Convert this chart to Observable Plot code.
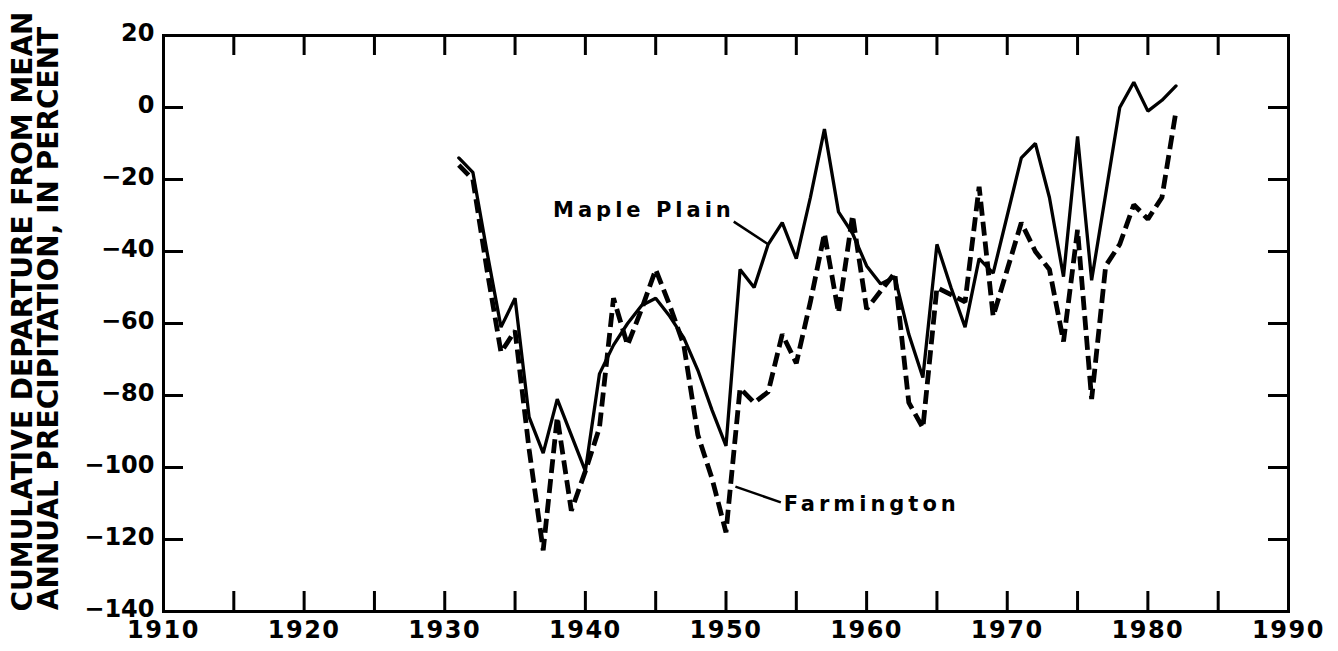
<!DOCTYPE html>
<html>
<head>
<meta charset="utf-8">
<script src="https://cdn.jsdelivr.net/npm/d3@7"></script>
<script src="https://cdn.jsdelivr.net/npm/@observablehq/plot@0.6"></script>
<style>
  html, body { margin: 0; padding: 0; background: white; }
  #chart { width: 1338px; height: 651px; }
</style>
</head>
<body>
<div id="chart"></div>
<script>
// ---- Data ----
const years = [1931,1932,1933,1934,1935,1936,1937,1938,1939,1940,
               1941,1942,1943,1944,1945,1946,1947,1948,1949,1950,
               1951,1952,1953,1954,1955,1956,1957,1958,1959,1960,
               1961,1962,1963,1964,1965,1966,1967,1968,1969,1970,
               1971,1972,1973,1974,1975,1976,1977,1978,1979,1980,
               1981,1982];
const maplePlain = [-14,-18,-40,-61,-53,-86,-96,-81,-91,-101,
                    -74,-66,-60,-55,-53,-58,-64,-73,-84,-94,
                    -45,-50,-38,-32,-42,-25,-6,-29,-35,-44,
                    -49,-47,-63,-75,-38,-50,-61,-42,-46,-30,
                    -14,-10,-25,-47,-8,-48,-24,0,7,-1,
                    2,6];
const farmington = [-16,-20,-45,-68,-62,-95,-123,-86,-112,-101,
                    -89,-53,-66,-56,-45,-55,-66,-91,-103,-118,
                    -78,-82,-79,-63,-71,-54,-35,-57,-30,-56,
                    -51,-46,-82,-89,-50,-52,-54,-22,-58,-45,
                    -32,-40,-45,-65,-34,-81,-44,-38,-27,-31,
                    -25,-1];
const xLabelTicks = [1910,1920,1930,1940,1950,1960,1970,1980,1990];
const xTicks = [1915,1920,1925,1930,1935,1940,1945,1950,1955,1960,1965,1970,1975,1980,1985];
const yTicks = [-140,-120,-100,-80,-60,-40,-20,0,20];
const yInnerTicks = [-120,-100,-80,-60,-40,-20,0];
const yTitleLines = ["CUMULATIVE DEPARTURE FROM MEAN", "ANNUAL PRECIPITATION, IN PERCENT"];
const seriesNames = ["Maple Plain", "Farmington"];
const labelYears = [1937.7, 1954.1];
const labelValues = [-28.6, -110.3];
const leaderFromYears = [1950.55, 1950.67];
const leaderFromValues = [-31.7, -105.3];
const leaderToYears = [1953.0, 1953.9];
const leaderToValues = [-38, -109.7];

// ---- Build tables ----
const mapleData = years.map((y, i) => ({year: y, value: maplePlain[i]}));
const farmData = years.map((y, i) => ({year: y, value: farmington[i]}));
const labels = seriesNames.map((n, i) => ({name: n, x: labelYears[i], y: labelValues[i]}));
const leaders = seriesNames.map((n, i) => ({x1: leaderFromYears[i], y1: leaderFromValues[i], x2: leaderToYears[i], y2: leaderToValues[i]}));

const W = 1338, H = 651;
const mL = 163, mR = 50, mT = 35, mB = 40;
const plotW = W - mL - mR, plotH = H - mT - mB;
const tickLen = 20;

const chart = Plot.plot({
  width: W, height: H,
  marginLeft: mL, marginRight: mR, marginTop: mT, marginBottom: mB,
  style: "font-family: 'DejaVu Sans', sans-serif; font-weight: bold; background: white; color: black;",
  x: {domain: [1910, 1990]},
  y: {domain: [-140, 20]},
  marks: [
    Plot.axisX(xLabelTicks, {tickSize: 0, tickPadding: 9, fontSize: 24, tickFormat: "d", label: null}),
    Plot.axisY(yTicks, {tickSize: 0, tickPadding: 9, dy: -2, fontSize: 24, label: null}),
    // inward ticks on all four sides
    Plot.ruleX(xTicks, {x: d => d, insetTop: plotH - tickLen, strokeWidth: 3}),
    Plot.ruleX(xTicks, {x: d => d, insetBottom: plotH - tickLen, strokeWidth: 3}),
    Plot.ruleY(yInnerTicks, {y: d => d, insetRight: plotW - tickLen, strokeWidth: 3}),
    Plot.ruleY(yInnerTicks, {y: d => d, insetLeft: plotW - tickLen, strokeWidth: 3}),
    Plot.frame({strokeWidth: 3}),
    // series
    Plot.line(mapleData, {x: "year", y: "value", stroke: "black", strokeWidth: 3.3, strokeLinejoin: "miter"}),
    Plot.line(farmData, {x: "year", y: "value", stroke: "black", strokeWidth: 4.8, strokeDasharray: "14,6", strokeLinecap: "butt", strokeLinejoin: "miter"}),
    // annotations
    Plot.link(leaders, {x1: "x1", y1: "y1", x2: "x2", y2: "y2", stroke: "black", strokeWidth: 2.5}),
    Plot.text(labels, {x: "x", y: "y", text: "name", textAnchor: "start", fontSize: 21, fontWeight: "bold", fill: "black"}),
    // y-axis title (two lines, rotated)
    Plot.text([yTitleLines[0]], {text: d => d, frameAnchor: "left", textAnchor: "middle", rotate: -90, dx: -140, dy: -12, fontSize: 28, fontWeight: "bold", fill: "black"}),
    Plot.text([yTitleLines[1]], {text: d => d, frameAnchor: "left", textAnchor: "middle", rotate: -90, dx: -114, dy: -5, fontSize: 28, fontWeight: "bold", fill: "black"})
  ]
});

d3.select(chart).selectAll("text")
  .filter(function() { return seriesNames.includes(this.textContent); })
  .style("letter-spacing", "4px");
d3.select(chart).selectAll("text")
  .filter(function() { return xLabelTicks.map(String).includes(this.textContent); })
  .style("letter-spacing", "1.5px");
document.getElementById("chart").appendChild(chart);
</script>
</body>
</html>
